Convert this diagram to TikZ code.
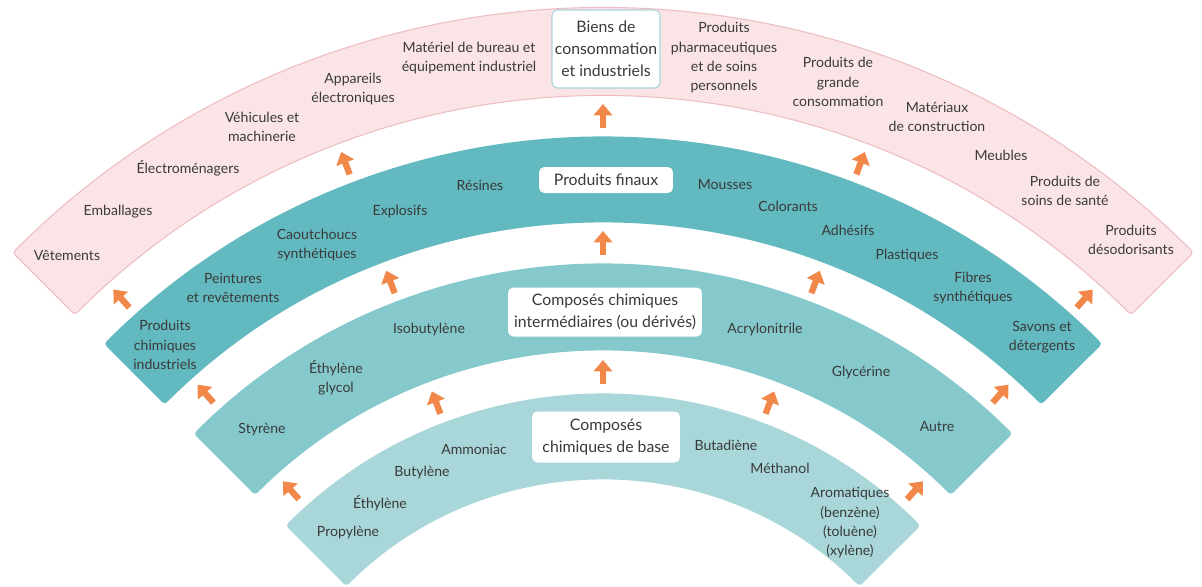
\documentclass[tikz,border=0pt]{standalone}
\usepackage{fontspec}
\setmainfont{Lato}
\usepackage{xcolor}
\usepackage{tikz}
\usetikzlibrary{arrows.meta,calc}

\definecolor{pinkfill}{HTML}{FBE4E6}
\definecolor{pinkline}{HTML}{EDBDC2}
\definecolor{tealdark}{HTML}{62B9BF}
\definecolor{tealmid}{HTML}{86C9CC}
\definecolor{teallight}{HTML}{A9D7D9}
\definecolor{arroworange}{HTML}{F2874A}
\definecolor{textgray}{HTML}{3A3A3A}
\definecolor{boxline}{HTML}{A9D3DC}

\begin{document}
\begin{tikzpicture}[x=0.02cm, y=0.02cm]
    % Stili
    \tikzstyle{band}=[rounded corners=2pt]
    \tikzstyle{item}=[text=textgray, font=\fontsize{8}{11}\selectfont, align=center, inner sep=1pt]
    \tikzstyle{heading}=[rectangle, rounded corners=3pt, fill=white, text=textgray, font=\fontsize{9}{12.5}\selectfont, align=center, inner sep=0pt]
    \tikzstyle{flow}=[-{Triangle[length=6.5pt,width=10.5pt]}, line width=3.6pt, arroworange]

    \useasboundingbox (0,0) rectangle (1202,-586);
    \coordinate (C) at (603,-843);

    % Bande
    \filldraw [band, fill=pinkfill, draw=pinkline, line width=0.6pt] ($(C)+(45:835)$) arc[start angle=45, end angle=135, radius=16.7cm] -- ($(C)+(135:747)$) arc[start angle=135, end angle=45, radius=14.94cm] -- cycle;
    \fill [band, tealdark] ($(C)+(45:706)$) arc[start angle=45, end angle=135, radius=14.12cm] -- ($(C)+(135:620)$) arc[start angle=135, end angle=45, radius=12.4cm] -- cycle;
    \fill [band, tealmid] ($(C)+(45:579)$) arc[start angle=45, end angle=135, radius=11.58cm] -- ($(C)+(135:492)$) arc[start angle=135, end angle=45, radius=9.84cm] -- cycle;
    \fill [band, teallight] ($(C)+(45:449)$) arc[start angle=45, end angle=135, radius=8.98cm] -- ($(C)+(135:363)$) arc[start angle=135, end angle=45, radius=7.26cm] -- cycle;

    % Titoli
    \node (biens) [heading, draw=boxline, line width=0.6pt, minimum width=2.16cm, minimum height=1.56cm] at (606,-49) {Biens de\\consommation\\et industriels};
    \node (finaux) [heading, minimum width=2.68cm, minimum height=0.52cm] at (606,-180) {Produits finaux};
    \node (inter) [heading, minimum width=3.88cm, minimum height=0.98cm] at (605,-312) {Composés chimiques\\intermédiaires (ou dérivés)};
    \node (base) [heading, minimum width=2.96cm, minimum height=1.02cm] at (606,-437) {Composés\\chimiques de base};

    % Biens de consommation et industriels
    \node (vetements) [item] at (67,-256) {Vêtements};
    \node (emballages) [item] at (118,-212) {Emballages};
    \node (electro) [item] at (188,-168) {Électroménagers};
    \node (vehicules) [item] at (262,-127) {Véhicules et\\machinerie};
    \node (appareils) [item] at (353,-89) {Appareils\\électroniques};
    \node (bureau) [item] at (469,-58) {Matériel de bureau et\\équipement industriel};
    \node (pharma) [item] at (724,-58) {Produits\\pharmaceutiques\\et de soins\\personnels};
    \node (grande) [item] at (838,-82) {Produits de\\grande\\consommation};
    \node (materiaux) [item] at (937,-117) {Matériaux\\de construction};
    \node (meubles) [item] at (1001,-155) {Meubles};
    \node (sante) [item] at (1065,-191) {Produits de\\soins de santé};
    \node (desodo) [item] at (1131,-240) {Produits\\désodorisants};

    % Produits finaux
    \node (industriels) [item] at (165,-345) {Produits\\chimiques\\industriels};
    \node (peintures) [item] at (233,-288) {Peintures\\et revêtements};
    \node (caoutchoucs) [item] at (317,-245) {Caoutchoucs\\synthétiques};
    \node (explosifs) [item] at (400,-212) {Explosifs};
    \node (resines) [item] at (480,-185) {Résines};
    \node (mousses) [item] at (725,-185) {Mousses};
    \node (colorants) [item] at (788,-206) {Colorants};
    \node (adhesifs) [item] at (848,-230) {Adhésifs};
    \node (plastiques) [item] at (907,-256) {Plastiques};
    \node (fibres) [item] at (973,-288) {Fibres\\synthétiques};
    \node (savons) [item] at (1042,-337) {Savons et\\détergents};

    % Composés intermédiaires
    \node (styrene) [item] at (262,-430) {Styrène};
    \node (glycol) [item] at (336,-378) {Éthylène\\glycol};
    \node (isobutylene) [item] at (429,-330) {Isobutylène};
    \node (acrylo) [item] at (765,-330) {Acrylonitrile};
    \node (glycerine) [item] at (861,-373) {Glycérine};
    \node (autre) [item] at (937,-427) {Autre};

    % Composés de base
    \node (propylene) [item] at (348,-533) {Propylène};
    \node (ethylene) [item] at (380,-503) {Éthylène};
    \node (butylene) [item] at (422,-473) {Butylène};
    \node (ammoniac) [item] at (474,-449) {Ammoniac};
    \node (butadiene) [item] at (726,-445) {Butadiène};
    \node (methanol) [item] at (780,-468) {Méthanol};
    \node (aromatiques) [item] at (850,-523) {Aromatiques\\(benzène)\\(toluène)\\(xylène)};

    % Frecce
    \draw [flow] ($(C)+(131.5:459)$) -- ($(C)+(131.5:483)$);
    \draw [flow] ($(C)+(110.75:459)$) -- ($(C)+(110.75:483)$);
    \draw [flow] ($(C)+(90:459)$) -- ($(C)+(90:483)$);
    \draw [flow] ($(C)+(69.25:459)$) -- ($(C)+(69.25:483)$);
    \draw [flow] ($(C)+(48.5:459)$) -- ($(C)+(48.5:483)$);

    \draw [flow] ($(C)+(131.5:588)$) -- ($(C)+(131.5:612)$);
    \draw [flow] ($(C)+(110.75:588)$) -- ($(C)+(110.75:612)$);
    \draw [flow] ($(C)+(90:588)$) -- ($(C)+(90:612)$);
    \draw [flow] ($(C)+(69.25:588)$) -- ($(C)+(69.25:612)$);
    \draw [flow] ($(C)+(48.5:588)$) -- ($(C)+(48.5:612)$);

    \draw [flow] ($(C)+(131.5:715)$) -- ($(C)+(131.5:739)$);
    \draw [flow] ($(C)+(110.75:715)$) -- ($(C)+(110.75:739)$);
    \draw [flow] ($(C)+(90:715)$) -- ($(C)+(90:739)$);
    \draw [flow] ($(C)+(69.25:715)$) -- ($(C)+(69.25:739)$);
    \draw [flow] ($(C)+(48.5:715)$) -- ($(C)+(48.5:739)$);

\end{tikzpicture}
\end{document}
